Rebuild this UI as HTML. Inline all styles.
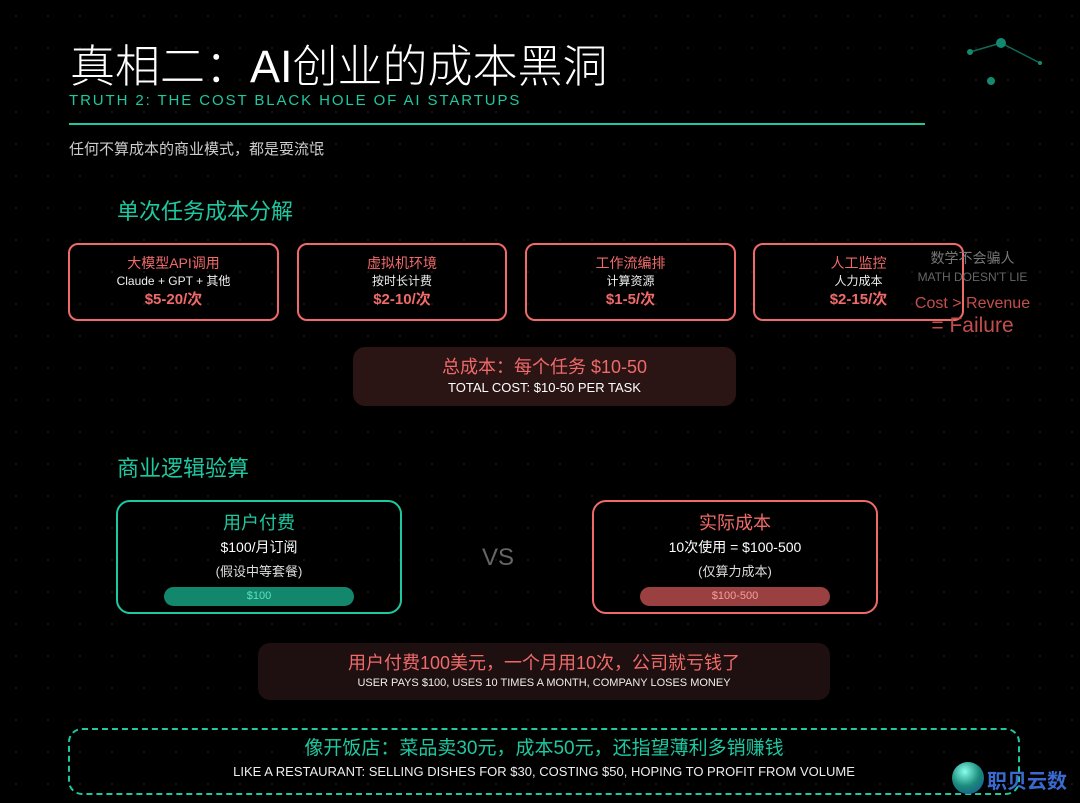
<!DOCTYPE html>
<html><head><meta charset="utf-8"><style>
*{margin:0;padding:0;box-sizing:border-box}
body{width:1080px;height:803px;background:#000;position:relative;overflow:hidden;font-family:"Liberation Sans","Noto Sans CJK SC",sans-serif;color:#fff}
.a{position:absolute}
.c{text-align:center}
.box{position:absolute;border:2px solid #f06a6a;border-radius:10px;text-align:center}
.box .t{color:#f06a6a;font-size:14px;margin-top:9px;line-height:18px}
.box .s{color:#eee;font-size:12px;margin-top:1px;line-height:16px}
.box .p{color:#f06a6a;font-size:15px;font-weight:bold;margin-top:2px;line-height:18px}
</style></head><body>
<div class="a" style="left:0;top:0;width:1080px;height:803px;background-image:radial-gradient(#141414 1px,transparent 1.2px);background-size:32px 32px"></div>
<div class="a" style="left:70px;top:30px;font-size:45px;font-weight:300">真相二：AI创业的成本黑洞</div>
<div class="a" style="left:69px;top:92px;font-size:15px;color:#1ec8a0;letter-spacing:1.9px">TRUTH 2: THE COST BLACK HOLE OF AI STARTUPS</div>
<div class="a" style="left:69px;top:123px;width:856px;height:2px;background:#1ec8a0"></div>
<div class="a" style="left:69px;top:138px;font-size:15px;color:#ccc">任何不算成本的商业模式，都是耍流氓</div>
<svg class="a" style="left:960px;top:30px" width="90" height="60"><line x1="10" y1="22" x2="41" y2="13" stroke="#0e6b58" stroke-width="1.5"/><line x1="41" y1="13" x2="80" y2="33" stroke="#0e6b58" stroke-width="1.5"/><circle cx="41" cy="13" r="5" fill="#138a70"/><circle cx="10" cy="22" r="3" fill="#138a70"/><circle cx="80" cy="33" r="2" fill="#138a70"/><circle cx="31" cy="51" r="4" fill="#138a70"/></svg>
<div class="a" style="left:117px;top:194px;font-size:22px;color:#1ec8a0">单次任务成本分解</div>
<div class="box" style="left:68px;top:243px;width:211px;height:78px"><div class="t">大模型API调用</div><div class="s">Claude + GPT + 其他</div><div class="p">$5-20/次</div></div>
<div class="box" style="left:297px;top:243px;width:210px;height:78px"><div class="t">虚拟机环境</div><div class="s">按时长计费</div><div class="p">$2-10/次</div></div>
<div class="box" style="left:525px;top:243px;width:211px;height:78px"><div class="t">工作流编排</div><div class="s">计算资源</div><div class="p">$1-5/次</div></div>
<div class="box" style="left:753px;top:243px;width:211px;height:78px"><div class="t">人工监控</div><div class="s">人力成本</div><div class="p">$2-15/次</div></div>
<div class="a c" style="left:900px;top:248px;width:145px;font-size:14px;color:#777">数学不会骗人</div>
<div class="a c" style="left:900px;top:270px;width:145px;font-size:12px;color:#666">MATH DOESN'T LIE</div>
<div class="a c" style="left:900px;top:295px;width:145px;font-size:16px;color:#c44e4e">Cost &gt; Revenue</div>
<div class="a c" style="left:900px;top:314px;width:145px;font-size:21px;color:#c44e4e">= Failure</div>
<div class="a c" style="left:353px;top:347px;width:383px;height:59px;background:#2a1414;border-radius:12px">
<div style="color:#f06a6a;font-size:18px;margin-top:6px">总成本：每个任务 $10-50</div>
<div style="font-size:13px;margin-top:1px">TOTAL COST: $10-50 PER TASK</div></div>
<div class="a" style="left:117px;top:451px;font-size:22px;color:#1ec8a0">商业逻辑验算</div>
<div class="box" style="left:116px;top:500px;width:286px;height:114px;border-color:#1ec8a0;border-radius:14px">
<div style="color:#1ec8a0;font-size:18px;margin-top:10px;line-height:22px">用户付费</div>
<div style="font-size:14px;margin-top:4px;line-height:18px">$100/月订阅</div>
<div style="font-size:13px;margin-top:8px;color:#ddd;line-height:16px">(假设中等套餐)</div>
<div style="margin:7px auto 0;width:190px;height:19px;border-radius:10px;background:#12876c;color:#5ee0c0;font-size:11px;line-height:19px">$100</div></div>
<div class="a" style="left:482px;top:544px;font-size:24px;color:#666">VS</div>
<div class="box" style="left:592px;top:500px;width:286px;height:114px;border-radius:14px">
<div style="color:#f06a6a;font-size:18px;margin-top:10px;line-height:22px">实际成本</div>
<div style="font-size:14px;margin-top:4px;line-height:18px">10次使用 = $100-500</div>
<div style="font-size:13px;margin-top:8px;color:#ddd;line-height:16px">(仅算力成本)</div>
<div style="margin:7px auto 0;width:190px;height:19px;border-radius:10px;background:#9a4040;color:#f0a0a0;font-size:11px;line-height:19px">$100-500</div></div>
<div class="a c" style="left:258px;top:643px;width:572px;height:57px;background:#1e1010;border-radius:12px">
<div style="color:#f06a6a;font-size:18px;margin-top:6px">用户付费100美元，一个月用10次，公司就亏钱了</div>
<div style="font-size:11px;margin-top:2px;color:#eee">USER PAYS $100, USES 10 TIMES A MONTH, COMPANY LOSES MONEY</div></div>
<div class="a c" style="left:68px;top:728px;width:952px;height:67px;border:2px dashed #1ec8a0;border-radius:14px">
<div style="color:#1ec8a0;font-size:19px;margin-top:3px">像开饭店：菜品卖30元，成本50元，还指望薄利多销赚钱</div>
<div style="font-size:13px;margin-top:4px;color:#eee">LIKE A RESTAURANT: SELLING DISHES FOR $30, COSTING $50, HOPING TO PROFIT FROM VOLUME</div></div>
<div class="a" style="left:952px;top:762px;width:32px;height:32px;border-radius:50%;background:radial-gradient(circle at 40% 30%,#8fe,#1a8a7a 50%,#1a4a9a)"></div>
<div class="a" style="left:987px;top:765px;font-size:20px;color:#3a6ad0;font-weight:bold">职贝云数</div>
</body></html>
